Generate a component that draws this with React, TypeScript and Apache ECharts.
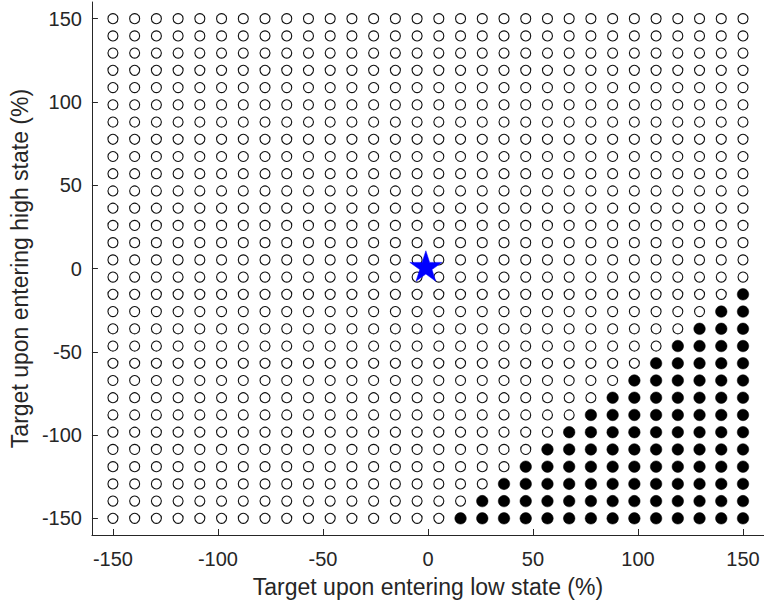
import React, { useEffect, useRef } from "react";
import * as echarts from "echarts";

// Grid levels (30 evenly spaced targets, %)
const lowStateTargets = [
  -150, -139.655, -129.31, -118.966, -108.621, -98.276, -87.931, -77.586, -67.241, -56.897,
  -46.552, -36.207, -25.862, -15.517, -5.172, 5.172, 15.517, 25.862, 36.207, 46.552,
  56.897, 67.241, 77.586, 87.931, 98.276, 108.621, 118.966, 129.31, 139.655, 150,
];
const highStateTargets = [
  -150, -139.655, -129.31, -118.966, -108.621, -98.276, -87.931, -77.586, -67.241, -56.897,
  -46.552, -36.207, -25.862, -15.517, -5.172, 5.172, 15.517, 25.862, 36.207, 46.552,
  56.897, 67.241, 77.586, 87.931, 98.276, 108.621, 118.966, 129.31, 139.655, 150,
];
// number of filled markers counted from the right, per row (bottom row first)
const filledPerRow = [
  14, 13, 12, 11, 10, 9, 8, 7, 6, 5, 4, 3, 2, 1, 0,
  0, 0, 0, 0, 0, 0, 0, 0, 0, 0, 0, 0, 0, 0, 0,
];
const starPoint = [-1, 1.5];
const tickValues = [-150, -100, -50, 0, 50, 100, 150];

const xTitle = "Target upon entering low state (%)";
const yTitle = "Target upon entering high state (%)";

const STAR =
  "path://M0,-100L22.45,-30.9L95.11,-30.9L36.33,11.8L58.78,80.9L0,38.2L-58.78,80.9L-36.33,11.8L-95.11,-30.9L-22.45,-30.9Z";

export default function App() {
  const ref = useRef<HTMLDivElement>(null);
  useEffect(() => {
    document.body.style.margin = "0";
    if (!ref.current) return;
    const chart = echarts.init(ref.current, undefined, { renderer: "svg" });
    const openPts: number[][] = [];
    const filledPts: number[][] = [];
    highStateTargets.forEach((y, j) => {
      const n = filledPerRow[j];
      lowStateTargets.forEach((x, k) => {
        if (k >= lowStateTargets.length - n) filledPts.push([x, y]);
        else openPts.push([x, y]);
      });
    });
    const font = "'Liberation Sans', Arial, Helvetica, sans-serif";
    const axisCommon = {
      type: "value" as const,
      min: -160,
      max: 160,
      interval: 10,
      splitLine: { show: false },
      axisLine: { show: true, onZero: false, lineStyle: { color: "#262626", width: 1 } },
      axisTick: {
        show: true,
        inside: true,
        length: 6,
        customValues: tickValues,
        lineStyle: { color: "#262626", width: 1 },
      },
      nameLocation: "middle" as const,
      nameTextStyle: { fontSize: 23, color: "#262626", fontFamily: font },
    };
    chart.setOption({
      animation: false,
      backgroundColor: "#ffffff",
      grid: { left: 91, right: -1, top: 2, bottom: 65, containLabel: false },
      xAxis: {
        ...axisCommon,
        name: xTitle,
        nameGap: 40,
        axisLabel: {
          customValues: tickValues,
          fontSize: 20,
          color: "#262626",
          fontFamily: font,
          margin: 14,
        },
      },
      yAxis: {
        ...axisCommon,
        name: yTitle,
        nameGap: 58,
        axisLabel: {
          customValues: tickValues,
          fontSize: 20,
          color: "#262626",
          fontFamily: font,
          margin: 10,
        },
      },
      series: [
        {
          type: "scatter",
          data: openPts,
          symbol: "circle",
          symbolSize: 10,
          itemStyle: { color: "rgba(255,255,255,0)", borderColor: "#111111", borderWidth: 1.1, opacity: 1 },
          z: 2,
        },
        {
          type: "scatter",
          data: filledPts,
          symbol: "circle",
          symbolSize: 11.5,
          itemStyle: { color: "#000000", borderColor: "#000000", borderWidth: 0.5, opacity: 1 },
          z: 2,
        },
        {
          type: "scatter",
          data: [starPoint],
          symbol: STAR,
          symbolSize: [32, 30.5],
          symbolOffset: [0, 0],
          itemStyle: { color: "#0000ff", borderColor: "#0000ff", borderWidth: 0.5, opacity: 1 },
          z: 5,
        },
      ],
    });
    return () => chart.dispose();
  }, []);
  return <div ref={ref} style={{ width: 764, height: 603 }} />;
}
